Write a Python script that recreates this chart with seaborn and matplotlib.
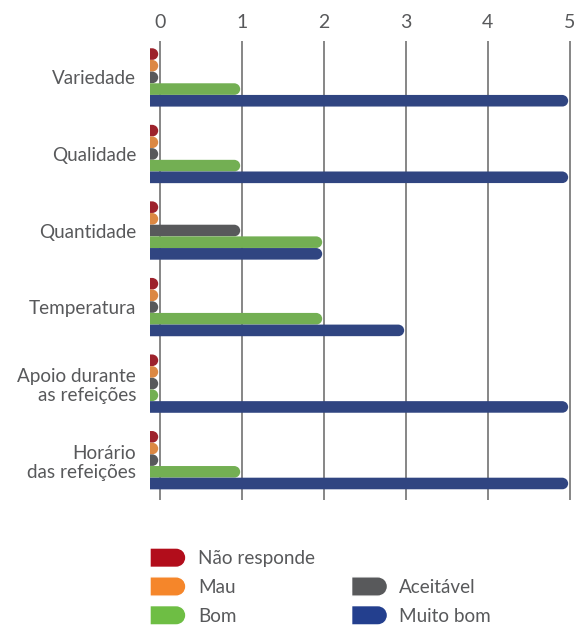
import numpy as np
import pandas as pd
import matplotlib
matplotlib.use("Agg")
import matplotlib.pyplot as plt
import seaborn as sns
from matplotlib.path import Path
from matplotlib.patches import PathPatch, Rectangle
from matplotlib.legend_handler import HandlerPatch

# -----------------------------
# Data
# -----------------------------
categories = ["Variedade", "Qualidade", "Quantidade", "Temperatura",
              "Apoio durante\nas refeições", "Horário\ndas refeições"]
ratings = ["Não responde", "Mau", "Aceitável", "Bom", "Muito bom"]
nao_responde = [0, 0, 0, 0, 0, 0]
mau = [0, 0, 0, 0, 0, 0]
aceitavel = [0, 0, 1, 0, 0, 0]
bom = [1, 1, 2, 2, 0, 1]
muito_bom = [5, 5, 2, 3, 5, 5]
x_ticks = [0, 1, 2, 3, 4, 5]

colors = {
    "Não responde": "#B20D1B",
    "Mau": "#F5862A",
    "Aceitável": "#58595B",
    "Bom": "#6EBE44",
    "Muito bom": "#233F8E",
}
text_color = "#58595B"

series = [nao_responde, mau, aceitavel, bom, muito_bom]
rows = []
for rating, vals in zip(ratings, series):
    for cat, v in zip(categories, vals):
        rows.append({"category": cat, "rating": rating, "value": v})
df = pd.DataFrame(rows)

# -----------------------------
# Plot
# -----------------------------
sns.set_style("white")
plt.rcParams["font.family"] = ["Lato", "DejaVu Sans"]

W, H = 587, 626
fig = plt.figure(figsize=(W / 100, H / 100), dpi=100)
ax_left, ax_right, ax_top, ax_bottom = 150, 578, 40.7, 500
ax = fig.add_axes([ax_left / W, 1 - ax_bottom / H,
                   (ax_right - ax_left) / W, (ax_bottom - ax_top) / H])

sns.barplot(data=df, x="value", y="category", hue="rating",
            hue_order=ratings, order=categories, palette=colors,
            orient="h", width=0.762, errorbar=None, legend=False, ax=ax)

ax.set_xlim(-0.12, 5.1)
ax.set_ylim(5.52, -0.48)
ax.set_xticks(x_ticks)
ax.xaxis.tick_top()
ax.tick_params(axis="x", length=0, pad=7, labelsize=14, labelcolor=text_color)
ax.tick_params(axis="y", length=0, pad=10, labelsize=13.6, labelcolor=text_color)
for lab in ax.get_yticklabels():
    lab.set_multialignment("right")
    lab.set_linespacing(1.15)
ax.set_xlabel("")
ax.set_ylabel("")
for s in ax.spines.values():
    s.set_visible(False)
ax.grid(axis="x", color="#666666", linewidth=1.1)
ax.set_axisbelow(True)


def rounded_path(x0, y0, x1, y1, rx, ry):
    # square left end, round right end
    arc = Path.arc(-90, 90)
    verts = [(x0, y0), (x1 - rx, y0)]
    verts += [(x1 - rx + rx * vx, (y0 + y1) / 2 + ry * vy) for vx, vy in arc.vertices[1:]]
    verts += [(x0, y1), (x0, y0)]
    codes = [Path.MOVETO, Path.LINETO] + list(arc.codes[1:]) + [Path.LINETO, Path.CLOSEPOLY]
    return Path(verts, codes)


# pixel scale of the data axes, for circular caps
p0 = ax.transData.transform((0, 0))
p1 = ax.transData.transform((1, 1))
px_x = abs(p1[0] - p0[0])
px_y = abs(p1[1] - p0[1])

bars = list(ax.patches)
for p in bars:
    v = p.get_width()
    y0 = p.get_y()
    h = p.get_height()
    ry = abs(h) / 2 * 0.98
    rx = ry * px_y / px_x
    path = rounded_path(-0.5, y0, v - 0.02, y0 + h, rx, ry if h > 0 else -ry)
    ax.add_patch(PathPatch(path, facecolor=p.get_facecolor(), edgecolor="none", zorder=2))
    p.remove()


# -----------------------------
# Legend
# -----------------------------
def make_handle(legend, orig_handle, xdescent, ydescent, width, height, fontsize):
    r = height / 2
    return PathPatch(rounded_path(-xdescent, -ydescent, -xdescent + width,
                                  -ydescent + height, r, r))


handles = [Rectangle((0, 0), 1, 1, facecolor=colors[r]) for r in ["Não responde", "Mau", "Bom"]]
handles.append(Rectangle((0, 0), 1, 1, facecolor="none", edgecolor="none"))
handles += [Rectangle((0, 0), 1, 1, facecolor=colors[r]) for r in ["Aceitável", "Muito bom"]]
labels = ["Não responde", "Mau", "Bom", "", "Aceitável", "Muito bom"]

leg = fig.legend(handles, labels, ncol=2, loc="upper left",
                 bbox_to_anchor=(150 / W, 1 - 548 / H), frameon=False,
                 fontsize=13.6, handlelength=1.9, handleheight=1.2,
                 handletextpad=0.63, columnspacing=1.95, labelspacing=0.5,
                 borderaxespad=0, borderpad=0,
                 handler_map={Rectangle: HandlerPatch(patch_func=make_handle)})
for t in leg.get_texts():
    t.set_color(text_color)

plt.savefig("out.png", dpi=100)
